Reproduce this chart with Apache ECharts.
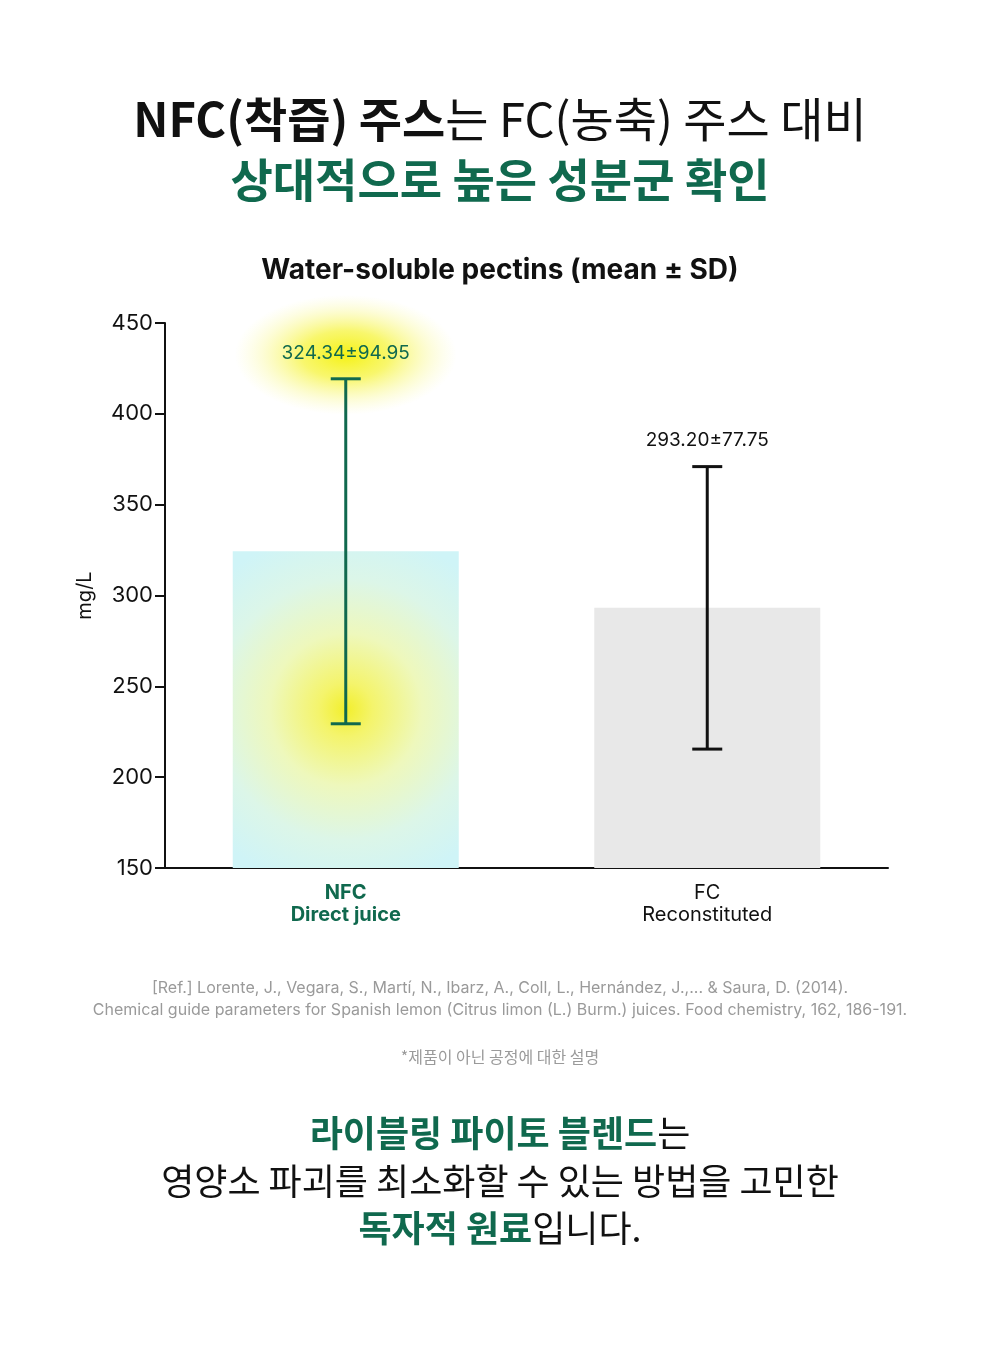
<!DOCTYPE html>
<html>
<head>
<meta charset="utf-8">
<script src="https://cdn.jsdelivr.net/npm/echarts@6/dist/echarts.min.js"></script>
<style>
  html, body { margin: 0; padding: 0; background: #fff; }
  #chart { width: 1000px; height: 1364px; }
</style>
</head>
<body>
<div id="chart"></div>
<script>
// data
const categories = ['NFC\nDirect juice', 'FC\nReconstituted']
const means = [324.34, 293.2]
const sds = [94.95, 77.75]
const valueLabels = ['324.34±94.95', '293.20±77.75']
const yTicks = [150, 200, 250, 300, 350, 400, 450]

const GREEN = '#10694e'
const FONT = 'Inter, "Noto Sans CJK KR", sans-serif'
const KR = '"Noto Sans CJK KR", Inter, sans-serif'

const chart = echarts.init(document.getElementById('chart'))

// error bars + value labels, drawn from the data through api.coord
const errData = means.map((m, i) => [i, m - sds[i], m + sds[i]])

function renderError(params, api) {
  const i = api.value(0)
  const lo = api.coord([i, api.value(1)])
  const hi = api.coord([i, api.value(2)])
  const color = i === 0 ? GREEN : '#111'
  const cap = 15
  const style = { stroke: color, lineWidth: 3 }
  const children = []
  if (i === 0) {
    // yellow glow behind the NFC label
    children.push({
      type: 'circle',
      x: hi[0], y: hi[1] - 24,
      scaleX: 1.85,
      shape: { cx: 0, cy: 0, r: 60 },
      style: {
        fill: new echarts.graphic.RadialGradient(0.5, 0.5, 0.5, [
          { offset: 0, color: 'rgba(245,242,20,1)' },
          { offset: 0.4, color: 'rgba(246,244,60,0.75)' },
          { offset: 0.75, color: 'rgba(248,247,120,0.3)' },
          { offset: 1, color: 'rgba(250,250,160,0)' }
        ])
      },
      silent: true
    })
  }
  children.push(
    { type: 'line', shape: { x1: hi[0], y1: hi[1], x2: lo[0], y2: lo[1] }, style },
    { type: 'line', shape: { x1: hi[0] - cap, y1: hi[1], x2: hi[0] + cap, y2: hi[1] }, style },
    { type: 'line', shape: { x1: lo[0] - cap, y1: lo[1], x2: lo[0] + cap, y2: lo[1] }, style },
    {
      type: 'text',
      x: hi[0], y: hi[1] - 26,
      style: {
        text: valueLabels[i],
        fill: color,
        font: '19px ' + FONT,
        align: 'center',
        verticalAlign: 'middle'
      }
    }
  )
  return { type: 'group', children }
}

const option = {
  backgroundColor: '#fff',
  textStyle: { fontFamily: FONT },
  title: [
    {
      text: '{b|NFC(착즙) 주스}{r|는 FC(농축) 주스 대비}',
      left: 'center', top: 90,
      textStyle: {
        rich: {
          b: { fontSize: 47, fontWeight: 'bold', color: '#111', fontFamily: KR, lineHeight: 48 },
          r: { fontSize: 47, fontWeight: 'normal', color: '#111', fontFamily: KR, lineHeight: 48 }
        }
      }
    },
    {
      text: '상대적으로 높은 성분군 확인',
      left: 'center', top: 151,
      textStyle: { fontSize: 46, fontWeight: 'bold', color: GREEN, fontFamily: KR, lineHeight: 48 }
    },
    {
      text: 'Water-soluble pectins (mean ± SD)',
      left: 'center', top: 251,
      textStyle: { fontSize: 28, fontWeight: 'bold', color: '#111', fontFamily: FONT, lineHeight: 30 }
    },
    {
      text: '[Ref.] Lorente, J., Vegara, S., Martí, N., Ibarz, A., Coll, L., Hernández, J.,... & Saura, D. (2014).',
      left: 'center', top: 973,
      textStyle: { fontSize: 16, fontWeight: 'normal', color: '#9a9a9a', fontFamily: FONT, lineHeight: 20 }
    },
    {
      text: 'Chemical guide parameters for Spanish lemon (Citrus limon (L.) Burm.) juices. Food chemistry, 162, 186-191.',
      left: 'center', top: 995,
      textStyle: { fontSize: 16, fontWeight: 'normal', color: '#9a9a9a', fontFamily: FONT, lineHeight: 20 }
    },
    {
      text: '*제품이 아닌 공정에 대한 설명',
      left: 'center', top: 1042,
      textStyle: { fontSize: 16, fontWeight: 'normal', color: '#9a9a9a', fontFamily: KR, lineHeight: 20 }
    },
    {
      text: '{g|라이블링 파이토 블렌드}{k|는}',
      left: 'center', top: 1109,
      textStyle: {
        rich: {
          g: { fontSize: 36, fontWeight: 'bold', color: GREEN, fontFamily: KR, lineHeight: 38 },
          k: { fontSize: 36, fontWeight: 'normal', color: '#111', fontFamily: KR, lineHeight: 38 }
        }
      }
    },
    {
      text: '영양소 파괴를 최소화할 수 있는 방법을 고민한',
      left: 'center', top: 1157,
      textStyle: { fontSize: 36, fontWeight: 'normal', color: '#111', fontFamily: KR, lineHeight: 38 }
    },
    {
      text: '{g|독자적 원료}{k|입니다.}',
      left: 'center', top: 1204,
      textStyle: {
        rich: {
          g: { fontSize: 36, fontWeight: 'bold', color: GREEN, fontFamily: KR, lineHeight: 38 },
          k: { fontSize: 36, fontWeight: 'normal', color: '#111', fontFamily: KR, lineHeight: 38 }
        }
      }
    }
  ],
  grid: { left: 165, right: 112, top: 323, bottom: 496, containLabel: false },
  xAxis: {
    type: 'category',
    data: categories,
    axisLine: { lineStyle: { color: '#111', width: 2 } },
    axisTick: { show: false },
    axisLabel: {
      margin: 14,
      formatter: (v, idx) => {
        const [a, b] = v.split('\n')
        const k = idx === 0 ? 'g' : 'k'
        return `{${k}|${a}}\n{${k}|${b}}`
      },
      rich: {
        g: { fontSize: 20, fontWeight: 'bold', color: GREEN, lineHeight: 22, fontFamily: FONT },
        k: { fontSize: 20, fontWeight: 'normal', color: '#111', lineHeight: 22, fontFamily: FONT }
      }
    }
  },
  yAxis: {
    type: 'value',
    min: yTicks[0],
    max: yTicks[yTicks.length - 1],
    interval: 50,
    name: 'mg/L',
    nameLocation: 'middle',
    nameGap: 70,
    nameTextStyle: { fontSize: 20, color: '#111', fontFamily: FONT },
    axisLine: { show: true, lineStyle: { color: '#111', width: 2 } },
    axisTick: { show: true, length: 10, lineStyle: { color: '#111', width: 2 } },
    axisLabel: { fontSize: 22, color: '#111', margin: 12, fontFamily: FONT },
    splitLine: { show: false }
  },
  series: [
    {
      type: 'bar',
      barWidth: 226,
      data: means.map((m, i) => ({
        value: m,
        itemStyle: {
          color: i === 0
            ? new echarts.graphic.RadialGradient(0.5, 0.5, 0.8, [
                { offset: 0, color: '#f2ef2c' },
                { offset: 0.15, color: '#f4f46c' },
                { offset: 0.42, color: '#eef8bc' },
                { offset: 0.72, color: '#dcf6e8' },
                { offset: 1, color: '#cff4f7' }
              ])
            : '#e8e8e8'
        }
      })),
      silent: true,
      z: 1
    },
    {
      type: 'custom',
      renderItem: renderError,
      data: errData,
      encode: { x: 0, y: [1, 2] },
      silent: true,
      z: 3
    }
  ]
}

chart.setOption(option)
</script>
</body>
</html>
